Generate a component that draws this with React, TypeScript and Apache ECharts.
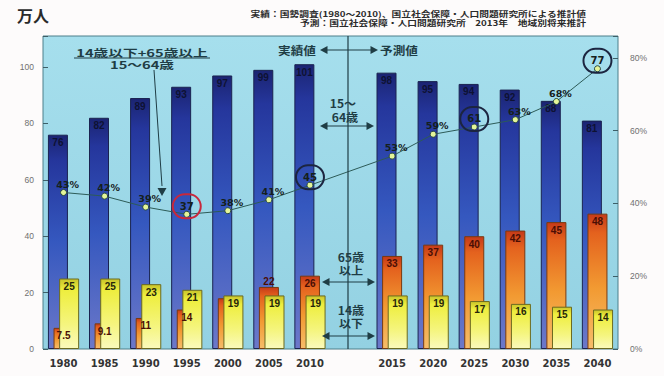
import React, { useEffect, useRef } from "react";
import * as echarts from "echarts";

const years = ["1980", "1985", "1990", "1995", "2000", "2005", "2010", "", "2015", "2020", "2025", "2030", "2035", "2040"];
const working = [76, 82, 89, 93, 97, 99, 101, null, 98, 95, 94, 92, 88, 81];
const elderly = [7.5, 9.1, 11, 14, 18, 22, 26, null, 33, 37, 40, 42, 45, 48];
const children = [25, 25, 23, 21, 19, 19, 19, null, 19, 19, 17, 16, 15, 14];
const ratio = [43, 42, 39, 37, 38, 41, 45, null, 53, 59, 61, 63, 68, 77];
const hiddenElderlyLabel = ["2000"];
const elderlyLabelAbove = ["2005"];
const circledRed = ["1995"];
const circledNavy = ["2010", "2025", "2040"];

const leftTicks = [0, 20, 40, 60, 80, 100];
const rightTicks = [0, 20, 40, 60, 80];

const JP = '"Noto Sans CJK JP", sans-serif';
const INK = "#1f3d45";

function head(x: number, y: number, dir: "l" | "r" | "d", s = 5) {
  let pts: number[][];
  if (dir === "l") pts = [[x, y], [x + s * 1.5, y - s * 0.8], [x + s * 1.5, y + s * 0.8]];
  else if (dir === "r") pts = [[x, y], [x - s * 1.5, y - s * 0.8], [x - s * 1.5, y + s * 0.8]];
  else pts = [[x, y], [x - s * 0.9, y - s * 1.6], [x + s * 0.9, y - s * 1.6]];
  return { type: "polygon", shape: { points: pts }, style: { fill: INK }, z: 100 };
}
function seg(x1: number, y1: number, x2: number, y2: number, w = 1.2) {
  return { type: "line", shape: { x1, y1, x2, y2 }, style: { stroke: INK, lineWidth: w }, z: 100 };
}
function txt(s: string, x: number, y: number, align: string, size: number, sx = 1, color = INK, weight = "bold") {
  return {
    type: "text",
    x,
    y,
    scaleX: sx,
    z: 101,
    style: { text: s, fill: color, font: `${weight} ${size}px ${JP}`, align, verticalAlign: "middle" },
  };
}
function dbl(y: number, x1: number, x2: number) {
  return [seg(x1 + 6, y, x2 - 6, y), head(x1, y, "l"), head(x2, y, "r")];
}

export default function App() {
  const ref = useRef<HTMLDivElement>(null);
  useEffect(() => {
    if (!ref.current) return;
    const chart = echarts.init(ref.current, null, { renderer: "svg" });
    const barLabel = (color: string) => ({
      show: true,
      position: "insideTop",
      distance: 3,
      color,
      fontFamily: '"Liberation Sans", Arial, sans-serif',
      fontWeight: "bold",
      fontSize: 10,
    });
    const grad = (stops: [number, string][]) =>
      new echarts.graphic.LinearGradient(0, 0, 0, 1, stops.map(([offset, color]) => ({ offset, color })));

    const tickStyle = {
      color: "#707070",
      fontFamily: '"Liberation Sans", Arial, sans-serif',
      fontSize: 8.5,
    };

    const option: any = {
      animation: false,
      backgroundColor: "#fdfbfb",
      grid: {
        left: 43,
        right: 46,
        top: 36,
        bottom: 27,
        show: true,
        outerBoundsMode: "none",
        backgroundColor: grad([[0, "#a6dfed"], [1, "#93d1e2"]]),
        borderColor: "#4d7f8a",
        borderWidth: 1,
      },
      xAxis: {
        type: "category",
        data: years,
        axisTick: { show: false },
        axisLine: { show: false },
        axisLabel: {
          color: "#333",
          fontFamily: '"DejaVu Sans", sans-serif',
          fontWeight: "bold",
          fontSize: 10,
          margin: 9,
        },
      },
      yAxis: [
        {
          type: "value",
          min: 0,
          max: 111,
          interval: 20,
          position: "left",
          splitLine: { show: false },
          axisLine: { show: false },
          axisTick: { show: true, inside: true, length: 5, lineStyle: { color: "#3d5f68" } },
          axisLabel: {
            ...tickStyle,
            formatter: (v: number) => (leftTicks.includes(v) ? String(v) : ""),
            margin: 9,
          },
        },
        {
          type: "value",
          min: 0,
          max: 86,
          interval: 20,
          position: "right",
          splitLine: { show: false },
          axisLine: { show: false },
          axisTick: { show: true, inside: true, length: 5, lineStyle: { color: "#3d5f68" } },
          axisLabel: {
            ...tickStyle,
            formatter: (v: number) => (rightTicks.includes(v) ? v + "%" : ""),
            margin: 12,
          },
        },
      ],
      series: [
        {
          name: "15～64歳",
          type: "bar",
          data: working,
          barWidth: 20,
          barGap: "-72%",
          itemStyle: {
            color: grad([[0, "#1b2472"], [0.12, "#25369c"], [0.5, "#3558bf"], [1, "#6c78c9"]]),
            borderColor: "#1a2350",
            borderWidth: 1,
          },
          label: barLabel("#0e1233"),
        },
        {
          name: "65歳以上",
          type: "bar",
          data: elderly.map((v, i) =>
            hiddenElderlyLabel.includes(years[i])
              ? { value: v, label: { show: false } }
              : elderlyLabelAbove.includes(years[i])
              ? { value: v, label: { position: "top", distance: 0 } }
              : v
          ),
          barWidth: 20,
          barGap: "-72%",
          itemStyle: {
            color: grad([[0, "#c63a18"], [0.14, "#e4621e"], [0.55, "#f29a32"], [1, "#f6bd6a"]]),
            borderColor: "#7a3a10",
            borderWidth: 1,
          },
          label: barLabel("#4a0e04"),
        },
        {
          name: "14歳以下",
          type: "bar",
          data: children,
          barWidth: 20,
          barGap: "-72%",
          itemStyle: {
            color: grad([[0, "#c9c42a"], [0.16, "#eeee3e"], [0.65, "#f5f57e"], [1, "#fafabc"]]),
            borderColor: "#6b6a20",
            borderWidth: 1,
          },
          label: barLabel("#26260a"),
        },
        {
          name: "従属人口指数",
          type: "line",
          yAxisIndex: 1,
          data: ratio.map((v, i) =>
            circledRed.includes(years[i]) || circledNavy.includes(years[i])
              ? { value: v, label: { position: "inside", offset: [0, -8] } }
              : v
          ),
          connectNulls: true,
          symbol: "circle",
          symbolSize: 6,
          lineStyle: { color: "#2d5b57", width: 1 },
          itemStyle: { color: "#e4f59a", borderColor: "#2a4a40", borderWidth: 1 },
          z: 5,
          label: {
            show: true,
            position: "top",
            distance: 5,
            offset: [4, 5],
            formatter: (p: any) => {
              if (circledRed.includes(p.name)) return `{cr|${p.value}}`;
              if (circledNavy.includes(p.name)) return `{cn|${p.value}}`;
              return `{p|${p.value}%}`;
            },
            rich: {
              p: {
                fontFamily: '"DejaVu Sans", sans-serif',
                fontWeight: "bold",
                fontSize: 9.5,
                color: "#15201c",
              },
              cr: {
                fontFamily: '"DejaVu Sans", sans-serif',
                fontWeight: "bold",
                fontSize: 10,
                color: "#15201c",
                borderColor: "#c8283c",
                borderWidth: 2,
                borderRadius: 13,
                width: 24,
                height: 20,
                lineHeight: 20,
                padding: [2, 2],
                align: "center",
              },
              cn: {
                fontFamily: '"DejaVu Sans", sans-serif',
                fontWeight: "bold",
                fontSize: 10,
                color: "#15201c",
                borderColor: "#1c2540",
                borderWidth: 2,
                borderRadius: 13,
                width: 24,
                height: 20,
                lineHeight: 20,
                padding: [2, 2],
                align: "center",
              },
            },
          },
        },
      ],
      graphic: [
        txt("万人", 17, 15, "left", 16, 1, "#2a2a2a"),
        txt("実績：国勢調査(1980～2010)、国立社会保障・人口問題研究所による推計値", 586, 14, "right", 7.5, 1.3, "#2a2a2a"),
        txt("予測：国立社会保障・人口問題研究所　2013年　地域別将来推計", 586, 23, "right", 7.5, 1.3, "#2a2a2a"),
        // fraction annotation
        txt("14歳以下+65歳以上", 142, 52, "center", 10.5, 1.4),
        seg(74, 58, 210, 58, 1),
        txt("15～64歳", 142, 64, "center", 10.5, 1.4),
        seg(154, 70, 162, 186, 1),
        head(162, 196, "d"),
        // actual / forecast divider
        seg(348, 36, 348, 349, 1.2),
        txt("実績値", 316, 50, "right", 11, 1.15),
        seg(326, 50, 372, 50),
        head(320, 50, "l"),
        head(378, 50, "r"),
        txt("予測値", 380, 50, "left", 11, 1.15),
        // age group labels
        txt("15～", 343, 103, "center", 11, 1.1),
        txt("64歳", 345, 117, "center", 11, 1.1),
        ...dbl(126, 320, 374),
        txt("65歳", 351, 257, "center", 11, 1.1),
        txt("以上", 351, 270, "center", 11, 1.1),
        ...dbl(282, 322, 375),
        txt("14歳", 351, 310, "center", 11, 1.1),
        txt("以下", 351, 323, "center", 11, 1.1),
        ...dbl(336, 322, 375),
      ],
    };
    chart.setOption(option);
    return () => chart.dispose();
  }, []);
  return (
    <div ref={ref} style={{ position: "absolute", left: 0, top: 0, width: 664, height: 376 }} />
  );
}
